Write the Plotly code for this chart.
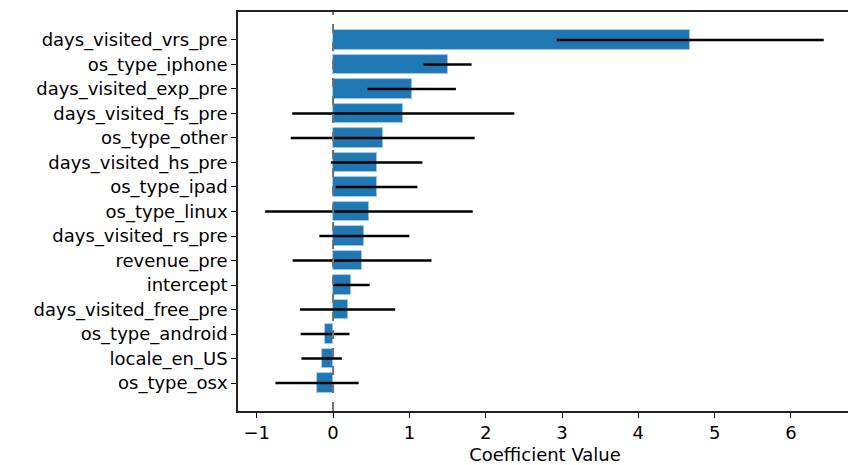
import plotly.graph_objects as go

features = ["days_visited_vrs_pre", "os_type_iphone", "days_visited_exp_pre",
            "days_visited_fs_pre", "os_type_other", "days_visited_hs_pre",
            "os_type_ipad", "os_type_linux", "days_visited_rs_pre",
            "revenue_pre", "intercept", "days_visited_free_pre",
            "os_type_android", "locale_en_US", "os_type_osx"]
coef = [4.68, 1.50, 1.03, 0.92, 0.65, 0.57, 0.57, 0.47, 0.41,
        0.38, 0.24, 0.19, -0.105, -0.15, -0.21]
err = [1.75, 0.315, 0.58, 1.455, 1.205, 0.60, 0.535, 1.36, 0.59,
       0.91, 0.24, 0.625, 0.32, 0.265, 0.545]
x_ticks = [-1, 0, 1, 2, 3, 4, 5, 6]

idx = list(range(len(features)))

fig = go.Figure()
fig.add_trace(go.Bar(
    x=coef, y=idx, orientation="h", width=0.8,
    marker=dict(color="#1f77b4", line=dict(color="#a9cbe6", width=0.8)),
    error_x=dict(type="data", array=err, visible=True, color="black",
                 thickness=2.4, width=0),
    showlegend=False,
))
fig.add_shape(type="line", x0=0, x1=0, y0=0, y1=1, xref="x", yref="paper",
              line=dict(color="#707070", width=2, dash="dash"), layer="above")

axis_common = dict(ticks="outside", ticklen=5, tickwidth=1, tickcolor="black",
                   showline=True, linecolor="#222222", linewidth=1.5,
                   mirror=True, showgrid=False, zeroline=False,
                   automargin=False)

fig.update_layout(
    width=848, height=457,
    margin=dict(l=230, r=4, t=4, b=54),
    paper_bgcolor="white", plot_bgcolor="white",
    font=dict(family="DejaVu Sans", size=18, color="black"),
    bargap=0,
    xaxis=dict(range=[-1.246, 6.8], tickvals=x_ticks,
               ticktext=["\u22121", "0", "1", "2", "3", "4", "5", "6"],
               title=dict(text="Coefficient Value", standoff=8,
                          font=dict(size=18)), **axis_common),
    yaxis=dict(range=[15.14, -1.14], tickvals=idx, ticktext=features,
               **axis_common),
)

fig.write_html("out.html")
